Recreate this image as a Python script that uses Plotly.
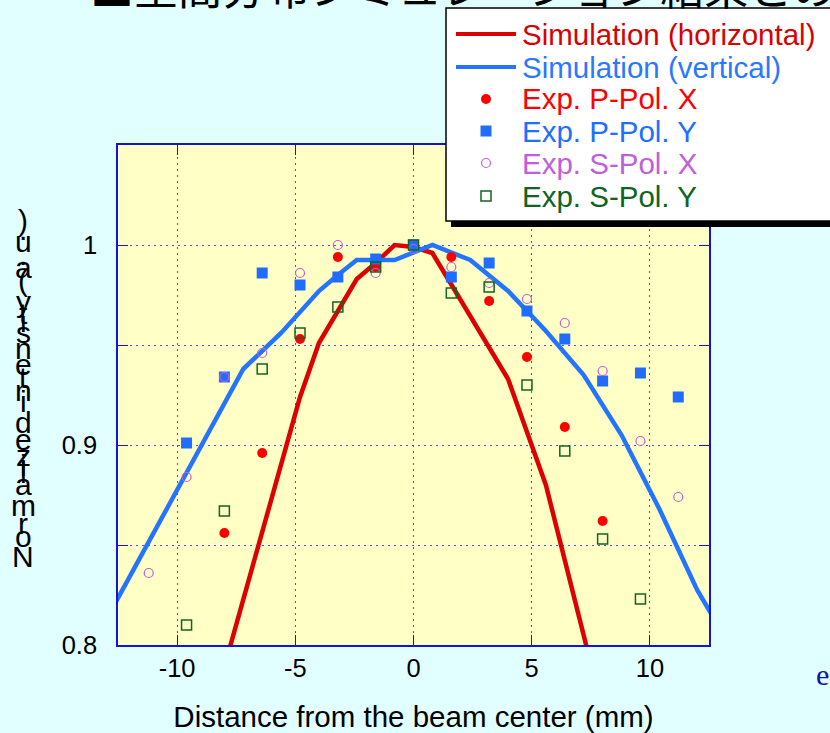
import plotly.graph_objects as go

# ---- simulated profiles (piecewise linear) ----
sim_h_x = [-8.0, -4.8, -4.0, -2.4, -1.6, -0.8, 0.0, 0.8, 4.0, 5.6, 7.6]
sim_h_y = [0.789, 0.924, 0.951, 0.983, 0.991, 1.000, 0.999, 0.996, 0.933, 0.880, 0.786]

sim_v_x = [-12.8, -7.2, -5.6, -4.0, -3.2, -2.4, -0.8, 0.8, 2.4, 4.0, 5.6, 7.2, 8.8, 10.4, 12.0, 12.8]
sim_v_y = [0.817, 0.938, 0.956, 0.977, 0.985, 0.9925, 0.9925, 1.000, 0.9925, 0.977, 0.957, 0.935,
           0.905, 0.868, 0.8275, 0.8115]

# ---- measured profiles ----
p_x_pos = [-8.0, -6.4, -4.8, -3.2, -1.6, 0.0, 1.6, 3.2, 4.8, 6.4, 8.0]
p_x_val = [0.856, 0.896, 0.953, 0.994, 0.989, 1.000, 0.994, 0.972, 0.944, 0.909, 0.862]

p_y_pos = [-9.6, -8.0, -6.4, -4.8, -3.2, -1.6, 0.0, 1.6, 3.2, 4.8, 6.4, 8.0, 9.6, 11.2]
p_y_val = [0.901, 0.934, 0.986, 0.980, 0.984, 0.993, 1.000, 0.984, 0.991, 0.967, 0.953, 0.932, 0.936, 0.924]

s_x_pos = [-11.2, -9.6, -8.0, -6.4, -4.8, -3.2, -1.6, 0.0, 1.6, 3.2, 4.8, 6.4, 8.0, 9.6, 11.2]
s_x_val = [0.836, 0.884, 0.934, 0.946, 0.986, 1.000, 0.986, 0.998, 0.989, 0.981, 0.973, 0.961, 0.937,
           0.902, 0.874]

s_y_pos = [-9.6, -8.0, -6.4, -4.8, -3.2, -1.6, 0.0, 1.6, 3.2, 4.8, 6.4, 8.0, 9.6]
s_y_val = [0.810, 0.867, 0.938, 0.956, 0.969, 0.989, 1.000, 0.976, 0.979, 0.930, 0.897, 0.853, 0.823]

legend_names = ["Simulation (horizontal)", "Simulation (vertical)", "Exp. P-Pol. X",
                "Exp. P-Pol. Y", "Exp. S-Pol. X", "Exp. S-Pol. Y"]

x_ticks = [-10, -5, 0, 5, 10]
y_ticks = [0.8, 0.9, 1.0]

y_label = "Normalized intensity (a.u.)"
x_label = "Distance from the beam center (mm)"
title_text = "■空間分布シミュレーション結果との比較"

RED_LINE = "#dd0000"
BLUE_LINE = "#2474ff"
RED_DOT = "#ff0000"
BLUE_SQ = "#1f6cff"
PURPLE = "#c060d8"
GREEN = "#126424"
AXIS_BLUE = "#1414d2"
GRID_BLUE = "#4c4ce6"
FONT = "Liberation Sans, Arial, Helvetica, sans-serif"

W, H = 830, 733
ML, MR, MT, MB = 118, 121, 145, 88
PW, PH = W - ML - MR, H - MT - MB


def px(xp):
    return (xp - ML) / PW


def py(yp):
    return (H - MB - yp) / PH


fig = go.Figure()

fig.add_trace(go.Scatter(x=sim_h_x, y=sim_h_y, mode="lines",
                         line=dict(color=RED_LINE, width=4.5), name=legend_names[0]))
fig.add_trace(go.Scatter(x=sim_v_x, y=sim_v_y, mode="lines",
                         line=dict(color=BLUE_LINE, width=4.5), name=legend_names[1]))
fig.add_trace(go.Scatter(x=p_x_pos, y=p_x_val, mode="markers",
                         marker=dict(symbol="circle", size=10, color=RED_DOT, line=dict(width=0)),
                         name=legend_names[2]))
fig.add_trace(go.Scatter(x=p_y_pos, y=p_y_val, mode="markers",
                         marker=dict(symbol="square", size=11, color=BLUE_SQ, line=dict(width=0)),
                         name=legend_names[3]))
fig.add_trace(go.Scatter(x=s_x_pos, y=s_x_val, mode="markers",
                         marker=dict(symbol="circle-open", size=9, color=PURPLE, line=dict(width=1.2)),
                         name=legend_names[4]))
fig.add_trace(go.Scatter(x=s_y_pos, y=s_y_val, mode="markers",
                         marker=dict(symbol="square-open", size=10, color=GREEN, line=dict(width=1.5)),
                         name=legend_names[5]))

shapes = []
annotations = []

# legend box with drop shadow
shapes.append(dict(type="rect", xref="paper", yref="paper", layer="above",
                   x0=px(451), x1=px(845), y0=py(227), y1=py(13),
                   fillcolor="black", line=dict(width=0)))
shapes.append(dict(type="rect", xref="paper", yref="paper", layer="above",
                   x0=px(446), x1=px(840), y0=py(221), y1=py(8),
                   fillcolor="white", line=dict(color="black", width=1.5)))

row_y = [34, 67, 99, 131, 163, 196]
swatch_cx = 486
# line swatches
for yy, col in zip(row_y[:2], [RED_LINE, BLUE_LINE]):
    shapes.append(dict(type="line", xref="paper", yref="paper", layer="above",
                       x0=px(456), x1=px(516), y0=py(yy), y1=py(yy),
                       line=dict(color=col, width=4)))
# marker swatches
shapes.append(dict(type="circle", xref="paper", yref="paper", layer="above",
                   x0=px(swatch_cx - 5), x1=px(swatch_cx + 5),
                   y0=py(row_y[2] + 5), y1=py(row_y[2] - 5),
                   fillcolor=RED_DOT, line=dict(width=0)))
shapes.append(dict(type="rect", xref="paper", yref="paper", layer="above",
                   x0=px(swatch_cx - 5.5), x1=px(swatch_cx + 5.5),
                   y0=py(row_y[3] + 5.5), y1=py(row_y[3] - 5.5),
                   fillcolor=BLUE_SQ, line=dict(width=0)))
shapes.append(dict(type="circle", xref="paper", yref="paper", layer="above",
                   x0=px(swatch_cx - 4.5), x1=px(swatch_cx + 4.5),
                   y0=py(row_y[4] + 4.5), y1=py(row_y[4] - 4.5),
                   fillcolor="rgba(0,0,0,0)", line=dict(color=PURPLE, width=1.2)))
shapes.append(dict(type="rect", xref="paper", yref="paper", layer="above",
                   x0=px(swatch_cx - 5), x1=px(swatch_cx + 5),
                   y0=py(row_y[5] + 5), y1=py(row_y[5] - 5),
                   fillcolor="rgba(0,0,0,0)", line=dict(color=GREEN, width=1.5)))

text_cols = ["#d80000", "#2a78ff", "#ff0000", "#2070ff", "#c060d8", "#0e6422"]
for name, yy, col in zip(legend_names, row_y, text_cols):
    annotations.append(dict(text=name, xref="paper", yref="paper", x=px(520), y=py(yy),
                            xanchor="left", yanchor="middle", showarrow=False,
                            font=dict(family=FONT, size=29.5, color=col)))

# vertical axis title, characters stacked upright
glyph_w = {"N": 722, "o": 556, "r": 333, "m": 833, "a": 556, "l": 222, "i": 222, "z": 500,
           "e": 556, "d": 556, " ": 278, "n": 556, "t": 278, "s": 500, "y": 500, "(": 333,
           ".": 278, "u": 556, ")": 333}
pos = 0.0
first_c = glyph_w[y_label[0]] / 2
for ch in y_label:
    w = glyph_w.get(ch, 500)
    c = pos + w / 2
    pos += w
    if ch == " ":
        continue
    yy = 556 - (c - first_c) * 0.0303
    annotations.append(dict(text=ch, xref="paper", yref="paper", x=px(23), y=py(yy),
                            xanchor="center", yanchor="middle", showarrow=False,
                            font=dict(family=FONT, size=30, color="black")))

# page heading (runs past the top edge)
annotations.append(dict(text=title_text, xref="paper", yref="paper", x=px(88), y=py(-14),
                        xanchor="left", yanchor="middle", showarrow=False,
                        font=dict(family="Noto Sans CJK JP", size=44, color="black")))
# fragment of side text
annotations.append(dict(text="e", xref="paper", yref="paper", x=px(814), y=py(674),
                        xanchor="left", yanchor="middle", showarrow=False,
                        font=dict(family="Liberation Serif, Times New Roman, serif", size=30,
                                  color="#1010b0")))

axis_common = dict(
    showline=True, linecolor=AXIS_BLUE, linewidth=1.5, mirror="ticks",
    ticks="inside", ticklen=10, tickcolor=AXIS_BLUE, tickwidth=1.2,
    showgrid=True, gridcolor=GRID_BLUE, gridwidth=1.2, griddash="2px,4px",
    zeroline=False, tickfont=dict(family=FONT, size=25.5, color="black"),
)

fig.update_xaxes(range=[-12.5, 12.5], tickvals=x_ticks, ticktext=[str(v) for v in x_ticks],
                 ticklabelstandoff=0,
                 title=dict(text=x_label, font=dict(family=FONT, size=29.5, color="black"), standoff=26),
                 **axis_common)
fig.update_yaxes(range=[0.8, 1.05], tickvals=y_ticks, ticktext=["0.8", "0.9", "1"],
                 ticklabelstandoff=14,
                 minor=dict(tickvals=[0.85, 0.95, 1.05], ticks="inside", ticklen=10,
                            tickcolor=AXIS_BLUE, tickwidth=1.2, showgrid=True,
                            gridcolor=GRID_BLUE, gridwidth=1.2, griddash="2px,4px"),
                 **axis_common)

fig.update_layout(
    width=W, height=H,
    margin=dict(l=ML, r=MR, t=MT, b=MB, autoexpand=False),
    paper_bgcolor="#e0fffe",
    plot_bgcolor="#ffffc6",
    showlegend=False,
    shapes=shapes,
    annotations=annotations,
)

fig.write_html("out.html")
